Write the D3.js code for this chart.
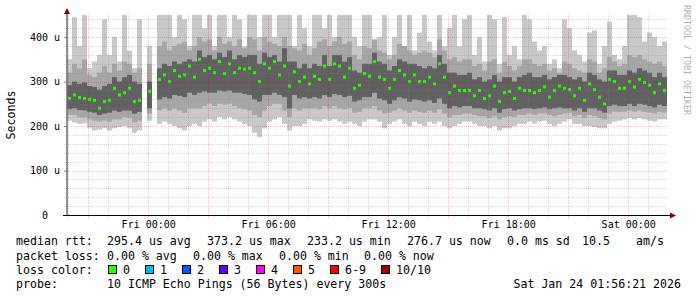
<!DOCTYPE html>
<html>
<head>
<meta charset="utf-8">
<script src="https://cdn.jsdelivr.net/npm/d3@7"></script>
<style>
  body { margin: 0; background: #fff; }
  svg { display: block; }
  text { font-family: "DejaVu Sans Mono", monospace; fill: #000; }
</style>
</head>
<body>
<script>
// time window of the graph (30 hours, 15 minute buckets)
const startTime = new Date(2026, 0, 22, 19, 56, 21);
const endTime = new Date(2026, 0, 24, 1, 56, 21);
const stepMin = 15;

// median rtt in microseconds, null = no data
const medRtt = [262,270,264,262,260,258,240,255,258,285,270,275,285,255,258,null,278,null,305,315,
  300,325,312,315,335,310,350,325,330,320,345,318,340,320,330,328,330,320,300,340,
  330,345,315,335,290,322,300,310,295,312,305,335,305,340,335,310,330,285,292,318,
  312,345,310,305,285,305,325,315,300,315,300,300,310,295,340,310,275,290,280,280,
  280,268,280,262,268,290,255,275,278,262,285,280,280,275,280,288,265,280,290,285,
  282,268,285,258,295,282,265,250,305,300,285,285,300,288,305,298,292,275,295,280];

// smoke: slowest ping, outer/inner bands, fastest ping
const pingMax = [350,445,380,450,330,345,360,440,360,400,345,450,370,330,440,null,380,null,450,450,
  450,400,450,440,380,450,450,420,450,380,450,450,400,450,440,380,450,450,400,450,
  450,400,450,450,450,380,450,420,380,450,450,420,450,400,450,450,450,400,380,450,
  450,380,400,450,360,400,450,380,450,370,410,450,390,370,450,380,420,450,380,440,
  450,360,400,345,450,440,340,445,360,380,350,450,440,390,370,380,340,350,330,440,
  420,370,360,345,410,415,340,380,435,360,350,380,450,450,445,390,410,400,380,390];

const pingHi2 = [320,340,330,350,315,310,320,335,320,340,325,345,340,320,330,null,340,null,380,390,
  370,380,385,390,370,380,400,390,395,370,400,385,390,380,395,375,400,395,370,400,
  390,385,380,400,380,375,370,385,360,375,390,395,380,390,400,385,390,360,350,380,
  375,395,370,365,350,360,385,380,370,360,365,370,365,355,395,370,350,355,345,350,
  350,335,340,325,345,350,320,345,335,325,335,350,350,340,335,340,325,330,320,345,
  340,330,325,320,350,345,320,330,355,345,335,340,360,355,360,350,345,340,345,335];

const pingHi = [292,300,295,298,290,288,282,290,295,310,300,310,315,300,295,null,300,null,330,340,
  335,345,340,345,350,345,370,355,360,350,365,355,370,350,360,355,360,360,340,365,
  355,360,345,375,345,345,330,340,330,340,335,360,335,360,360,345,355,325,320,340,
  340,365,345,340,325,335,350,345,340,340,335,330,335,330,360,340,320,320,315,315,
  320,305,310,300,305,315,300,310,310,300,310,315,320,310,310,315,305,310,315,315,
  310,305,310,300,320,315,305,300,325,325,315,315,325,320,330,325,320,310,320,310];

const pingLo = [238,240,236,235,232,230,225,228,230,235,232,235,235,228,232,null,240,null,260,265,
  262,270,268,265,275,270,275,278,275,275,280,278,280,275,275,272,270,260,255,270,
  270,275,270,265,240,270,262,265,262,265,262,270,265,272,270,265,268,255,258,265,
  265,275,262,258,250,258,265,262,255,260,258,255,258,252,262,250,240,245,242,245,
  245,240,240,238,235,240,230,238,240,235,238,240,240,238,240,242,238,240,242,240,
  240,235,240,232,240,240,235,230,245,248,245,245,250,245,250,248,245,242,248,245];

const pingLo2 = [225,225,220,220,215,212,210,212,210,215,215,220,218,208,212,null,228,null,235,240,
  235,240,235,230,240,240,240,245,250,245,250,248,250,245,240,238,235,225,220,235,
  245,250,250,235,220,240,235,240,240,240,238,245,240,245,240,238,240,230,232,240,
  240,245,235,228,230,235,240,235,230,235,232,230,235,230,238,228,220,225,225,228,
  228,225,222,222,218,222,215,220,222,220,225,225,228,225,228,228,225,222,225,228,
  230,222,225,218,225,222,218,215,228,232,232,232,235,232,235,232,230,228,232,230];

const pingMin = [212,208,205,206,196,190,192,195,190,195,198,200,195,185,190,null,212,null,205,210,
  205,200,195,190,200,205,200,210,215,210,220,215,220,215,210,205,200,185,175,195,
  210,215,220,205,190,200,200,205,215,212,210,215,212,215,210,205,210,205,200,210,
  215,215,210,195,205,210,215,205,200,210,205,200,210,205,210,200,195,200,205,210,
  210,205,200,200,195,200,190,195,195,200,205,205,210,205,210,212,205,200,205,210,
  215,205,205,200,200,198,195,195,205,210,212,215,218,215,218,215,212,210,215,215];

const yTicks = [0, 100, 200, 300, 400];
const xTickTimes = [new Date(2026,0,23,0), new Date(2026,0,23,6), new Date(2026,0,23,12),
  new Date(2026,0,23,18), new Date(2026,0,24,0)];

const lossLabels = ["0", "1", "2", "3", "4", "5", "6-9", "10/10"];
const lossColors = ["#26ff00", "#00b8ff", "#0059ff", "#5e00ff", "#ff00fb", "#ff5500", "#ff0000", "#a10000"];

const W = 697, H = 297;
const svg = d3.select("body").append("svg").attr("width", W).attr("height", H);

const x = d3.scaleTime().domain([startTime, endTime]).range([67, 667]);
const y = d3.scaleLinear().domain([0, 452]).range([215, 14]);

const times = medRtt.map((d, i) => d3.timeMinute.offset(startTime, i * stepMin));
const buckets = medRtt.map((d, i) => ({
  t0: times[i], t1: d3.timeMinute.offset(times[i], stepMin),
  med: d, max: pingMax[i], hi2: pingHi2[i], hi: pingHi[i], lo: pingLo[i], lo2: pingLo2[i], min: pingMin[i]
})).filter(d => d.med != null);

svg.append("clipPath").attr("id", "plot")
  .append("rect").attr("x", 67).attr("y", 14).attr("width", 600).attr("height", 201);

const plot = svg.append("g").attr("clip-path", "url(#plot)");

// smoke, light to dark
const bands = [["max", "min", "#c8c8c8"], ["hi2", "lo2", "#a6a6a6"], ["hi", "lo", "#616161"]];
bands.forEach(([top, bot, col]) => {
  plot.append("g").selectAll("rect").data(buckets).join("rect")
    .attr("x", d => x(d.t0)).attr("width", d => x(d.t1) - x(d.t0))
    .attr("y", d => y(d[top])).attr("height", d => y(d[bot]) - y(d[top]))
    .attr("fill", col);
});

// median
plot.append("g").selectAll("rect").data(buckets).join("rect")
  .attr("x", d => (x(d.t0) + x(d.t1)) / 2 - 1.5).attr("width", 3)
  .attr("y", d => y(d.med) - 1.5).attr("height", 3)
  .attr("fill", lossColors[0]);

// grid
const grid = svg.append("g");
d3.range(20, 452, 20).forEach(v => {
  const major = v % 100 === 0;
  const py = Math.round(y(v)) + 0.5;
  grid.append("line")
    .attr("x1", 64).attr("x2", 668).attr("y1", py).attr("y2", py)
    .attr("stroke", major ? "#d00000" : "#808080").attr("stroke-opacity", major ? 0.25 : 0.3)
    .attr("stroke-dasharray", "1,1");
});
d3.timeHour.every(1).range(startTime, endTime).forEach(t => {
  const major = t.getHours() % 3 === 0;
  const px = Math.round(x(t)) + 0.5;
  grid.append("line")
    .attr("x1", px).attr("x2", px).attr("y1", 14).attr("y2", 219)
    .attr("stroke", major ? "#d00000" : "#808080").attr("stroke-opacity", major ? 0.25 : 0.3)
    .attr("stroke-dasharray", "1,1");
});

// axes
const yAxis = svg.append("g").attr("transform", "translate(67,0)")
  .call(d3.axisLeft(y).tickValues(yTicks).tickSize(3).tickPadding(4)
    .tickFormat(d => d === 0 ? "0  " : d + " u"));
yAxis.select(".domain").remove();
yAxis.selectAll("line").attr("stroke", "#888");
yAxis.selectAll("text").attr("font-size", 10).attr("fill", "#000")
  .attr("font-family", "DejaVu Sans Mono").style("white-space", "pre");

const xAxis = svg.append("g").attr("transform", "translate(0,215)")
  .call(d3.axisBottom(x).tickValues(xTickTimes).tickSize(0).tickPadding(6)
    .tickFormat(d3.timeFormat("%a %H:%M")));
xAxis.select(".domain").remove();
xAxis.selectAll("text").attr("font-size", 10).attr("fill", "#000")
  .attr("font-family", "DejaVu Sans Mono");

svg.append("line").attr("x1", 67).attr("x2", 67).attr("y1", 12).attr("y2", 216)
  .attr("stroke", "#6a6a6a").attr("stroke-width", 1.5);
svg.append("line").attr("x1", 63).attr("x2", 671).attr("y1", 215.5).attr("y2", 215.5)
  .attr("stroke", "#000");
svg.append("path").attr("d", "M64,14 L67,8 L70,14 Z").attr("fill", "#7f0000");
svg.append("path").attr("d", "M670,212.5 L676,215.5 L670,218.5 Z").attr("fill", "#7f0000");

// titles
svg.append("text").attr("transform", "translate(15,115) rotate(-90)")
  .attr("text-anchor", "middle").attr("font-size", 11.6).text("Seconds");
svg.append("text").attr("transform", "translate(684,5) rotate(90)")
  .attr("font-size", 8.3).style("fill", "#b0b0b0")
  .text("RRDTOOL / TOBI OETIKER");

// legend
const legend = svg.append("g").attr("font-size", 11.6);
const row = (yy, parts) => parts.forEach(([px, s]) =>
  legend.append("text").attr("x", px).attr("y", yy).style("white-space", "pre").text(s));

row(245, [[16, "median rtt:"], [107, "295.4 us avg"], [207, "373.2 us max"], [307, "233.2 us min"],
  [407, "276.7 us now"], [507, "0.0 ms sd"], [582, "10.5"], [636, "am/s"]]);
row(260, [[16, "packet loss:"], [107, "0.00 % avg"], [193, "0.00 % max"], [279, "0.00 % min"], [364, "0.00 % now"]]);
row(274, [[16, "loss color:"]]);
row(288, [[16, "probe:"], [107, "10 ICMP Echo Pings (56 Bytes) every 300s"]]);
legend.append("text").attr("x", 681).attr("y", 288).attr("text-anchor", "end")
  .text("Sat Jan 24 01:56:21 2026");

const boxX = [108, 145, 182, 219, 256, 293, 330, 381];
lossLabels.forEach((lab, i) => {
  legend.append("rect").attr("x", boxX[i] + 0.5).attr("y", 265.5).attr("width", 8).attr("height", 8)
    .attr("fill", lossColors[i]).attr("stroke", "#000");
  legend.append("text").attr("x", boxX[i] + 15).attr("y", 274).text(lab);
});
</script>
</body>
</html>
